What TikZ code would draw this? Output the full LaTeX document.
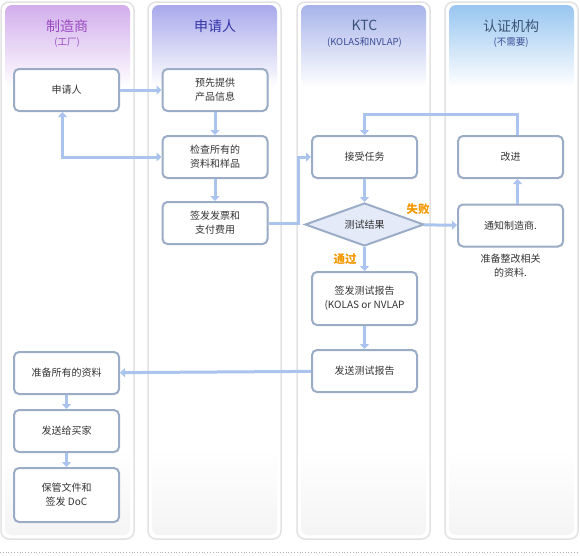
\documentclass[tikz,border=0pt]{standalone}
\usepackage{fontspec}
\setmainfont{Noto Sans CJK SC}
\usetikzlibrary{arrows.meta, positioning, shapes.geometric, shadows}
\definecolor{boxline}{HTML}{9BADC6}
\definecolor{flowc}{HTML}{AAC4EE}
\definecolor{testfill}{HTML}{E4EAF8}
\definecolor{txt}{HTML}{333333}
\definecolor{failc}{HTML}{F39800}
\definecolor{laneline}{HTML}{E2E2E2}
\definecolor{lanefoot}{HTML}{F4F4F4}
\definecolor{hdrA}{HTML}{D2AEEC}
\definecolor{hdrB}{HTML}{A9A9EC}
\definecolor{hdrC}{HTML}{A8B4EA}
\definecolor{hdrD}{HTML}{98C6F0}
\definecolor{ttlA}{HTML}{9A48C0}
\definecolor{ttlB}{HTML}{3434A8}
\definecolor{ttlC}{HTML}{3A5478}
\definecolor{subC}{HTML}{3C4C98}
\tikzset{
	x=1pt, y=-1pt,
	>={Triangle[width=9pt,length=5pt]},
	proc/.style={
		draw=boxline,
		line width=2pt,
		rounded corners=5pt,
		fill=white,
		drop shadow={shadow xshift=.8pt, shadow yshift=-.8pt, fill=black, opacity=.12},
		minimum width=105pt,
		minimum height=42pt,
		align=center,
		text=txt,
		font=\fontsize{10}{14}\selectfont
	},
	test/.style={
		draw=boxline,
		line width=2pt,
		fill=testfill,
		diamond,
		aspect=2.7,
		inner sep=0pt,
		minimum width=119pt,
		minimum height=43pt,
		text=txt,
		font=\fontsize{10}{14}\selectfont
	},
	flow/.style={
		->,
		draw=flowc,
		line width=3pt
	},
	lane/.style={
		draw=laneline,
		line width=1.5pt,
		rounded corners=8pt,
		fill=white
	},
	title/.style={font=\fontsize{14}{16}\selectfont},
	subtitle/.style={font=\fontsize{9.5}{11}\selectfont},
	verdict/.style={text=failc, font=\fontsize{11.5}{13}\selectfont\bfseries},
	note/.style={align=center, text=txt, font=\fontsize{10}{14}\selectfont}
}
\begin{document}
\begin{tikzpicture}
	\useasboundingbox (0,0) rectangle (580,555);

	% lanes
	\foreach \lx/\hc in {1/hdrA, 148/hdrB, 297/hdrC, 445/hdrD} {
		\draw[lane] (\lx,2) rectangle ++(133,537);
		\shade[rounded corners=7pt, top color=\hc, middle color=\hc!55, bottom color=white] (\lx+4,5) rectangle ++(125,82);
		\shade[rounded corners=7pt, top color=white, bottom color=lanefoot] (\lx+4,450) rectangle ++(125,85);
	}
	\draw[gray!60, dotted, line width=.8pt] (0,552) -- (580,552);

	% lane titles
	\node[title, text=ttlA] (t-maker) at (67,26) {制造商};
	\node[subtitle, text=ttlA] (s-maker) at (67,43) {(工厂)};
	\node[title, text=ttlB] (t-applicant) at (215,26) {申请人};
	\node[title, text=ttlC] (t-ktc) at (364.5,25) {KTC};
	\node[subtitle, text=subC] (s-ktc) at (364.5,42) {(KOLAS和NVLAP)};
	\node[title, text=ttlC] (t-cert) at (511,26) {认证机构};
	\node[subtitle, text=subC] (s-cert) at (511,43) {(不需要)};

	% steps
	\node[proc] (app) at (66.5,90) {申请人};
	\node[proc] (prep) at (215,90) {预先提供\\产品信息};
	\node[proc, below=23pt of prep] (check) {检查所有的\\资料和样品};
	\node[proc, below=22pt of check] (invoice) {签发发票和\\支付费用};
	\node[proc] (accept) at (364.5,157) {接受任务};
	\node[test, below=23pt of accept] (result) {测试结果};
	\node[proc, minimum height=53pt, below=24pt of result] (report) {签发测试报告\\(KOLAS or NVLAP};
	\node[proc, below=23pt of report] (send) {发送测试报告};
	\node[proc] (gather) at (66.5,373) {准备所有的资料};
	\node[proc, below=14pt of gather] (buyer) {发送给买家};
	\node[proc, minimum height=54pt, below=14pt of buyer] (keep) {保管文件和\\签发 DoC};
	\node[proc] (improve) at (510.5,157) {改进};
	\node[proc] (notify) at (510.5,225.5) {通知制造商.};
	\node[note, below=3pt of notify] (rework) {准备整改相关\\的资料.};

	\node[verdict] (fail) at (418,209) {失败};
	\node[verdict] (pass) at (345,259) {通过};

	% connectors
	\draw[flow] (app) -- (prep);
	\draw[flow] (prep) -- (check);
	\draw[flow] (check) -- (invoice);
	\draw[flow, <->] ([xshift=-4pt]app.south) |- (check.west);
	\draw[flow] (invoice.east) -- ++(30,0) |- (accept.west);
	\draw[flow] (accept) -- (result);
	\draw[flow] (result) -- (notify);
	\draw[flow] (result) -- (report);
	\draw[flow] (report) -- (send);
	\draw[flow] (send) -- (gather);
	\draw[flow] (gather) -- (buyer);
	\draw[flow] (buyer) -- (keep);
	\draw[flow] ([xshift=7pt]notify.north) -- ([xshift=7pt]improve.south);
	\draw[flow] ([xshift=7pt]improve.north) -- ++(0,-21) -| (accept.north);
\end{tikzpicture}
\end{document}
